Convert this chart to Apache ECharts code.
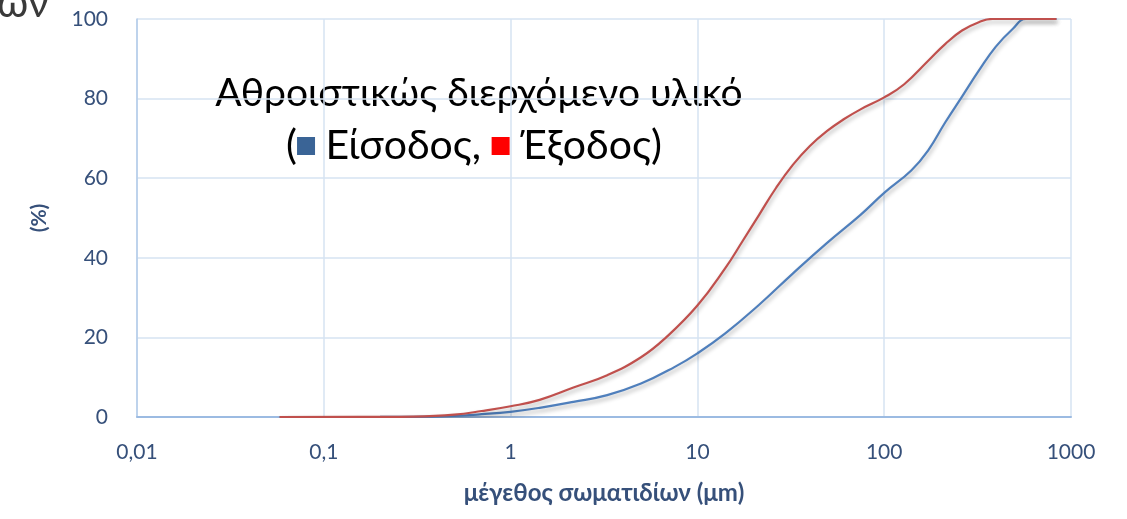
<!DOCTYPE html>
<html>
<head>
<meta charset="utf-8">
<script src="https://cdn.jsdelivr.net/npm/echarts@6/dist/echarts.min.js"></script>
<style>
html,body{margin:0;padding:0;background:#fff;}
#c{width:1127px;height:519px;}
</style>
</head>
<body>
<div id="c"></div>
<script>
// Data
const xTickLabels = ['0,01', '0,1', '1', '10', '100', '1000'];
const yTickLabels = ['0', '20', '40', '60', '80', '100'];

const exitSize = [0.058, 0.2, 0.3, 0.5, 0.7, 1, 1.43, 2.17, 3.29, 4.99, 6.8, 10, 14.1, 17.4, 21.4, 26.4, 32.5, 40, 49.3, 60.7, 74.7, 100, 128, 172, 212, 261, 321, 379, 836];
const exitPass = [0, 0.02, 0.1, 0.6, 1.5, 2.7, 4.3, 7.4, 10.5, 15, 20, 28, 37.4, 44.1, 50.8, 57.6, 63.4, 68.1, 71.8, 74.8, 77.3, 80.3, 83.6, 89.5, 93.7, 97.1, 99.2, 100, 100];

const inletSize = [0.058, 0.2, 0.3, 0.5, 0.7, 1, 1.43, 2.17, 3.29, 4.99, 7.57, 10, 14.1, 21.4, 32.5, 49.3, 74.7, 100, 140, 172, 212, 261, 321, 395, 487, 575, 836];
const inletPass = [0, 0.01, 0.05, 0.3, 0.7, 1.3, 2.3, 3.8, 5.5, 8.4, 12.6, 16, 21, 28.2, 36.1, 43.7, 50.8, 56.3, 62, 67, 74, 80.5, 87, 93, 97.5, 100, 100];

const pair = (xs, ys) => xs.map((x, i) => [x, ys[i]]);

const labelColor = '#36507a';
const font = 'Lato, "Open Sans", "Noto Sans", sans-serif';

const chart = echarts.init(document.getElementById('c'), null, {renderer: 'canvas'});
chart.setOption({
  animation: false,
  backgroundColor: '#ffffff',
  grid: {left: 137, right: 56, top: 19, bottom: 102, containLabel: false, outerBoundsMode: 'none'},
  xAxis: {
    type: 'log', logBase: 10, min: 0.01, max: 1000,
    name: 'μέγεθος σωματιδίων (μm)', nameLocation: 'middle', nameGap: 64,
    nameTextStyle: {color: labelColor, fontFamily: font, fontSize: 24, fontWeight: 'bold'},
    axisLine: {show: true, lineStyle: {color: '#9cbbe2', width: 2}},
    axisTick: {show: false},
    axisLabel: {
      color: labelColor, fontFamily: font, fontSize: 21, margin: 25,
      formatter: v => xTickLabels[Math.round(Math.log10(v)) + 2]
    },
    splitLine: {show: true, lineStyle: {color: '#d6e3f2', width: 1.5}},
    minorTick: {show: false}, minorSplitLine: {show: false}
  },
  yAxis: {
    type: 'value', min: 0, max: 100, interval: 20,
    name: '(%)', nameLocation: 'middle', nameGap: 87, nameRotate: 90,
    nameTextStyle: {color: labelColor, fontFamily: font, fontSize: 21, fontWeight: 'bold'},
    axisLine: {show: true, lineStyle: {color: '#b3cbe8', width: 1.5}},
    axisTick: {show: false},
    axisLabel: {
      color: labelColor, fontFamily: font, fontSize: 21, margin: 29,
      formatter: v => yTickLabels[Math.round(v / 20)]
    },
    splitLine: {show: true, lineStyle: {color: '#d6e3f2', width: 1.5}}
  },
  series: [
    {
      name: 'Είσοδος', type: 'line', data: pair(inletSize, inletPass),
      smooth: 0.45, symbol: 'none', z: 3,
      lineStyle: {color: '#4f7fbc', width: 2.2, shadowColor: 'rgba(0,0,0,0.3)', shadowBlur: 4, shadowOffsetX: 1, shadowOffsetY: 3}
    },
    {
      name: 'Έξοδος', type: 'line', data: pair(exitSize, exitPass),
      smooth: 0.45, symbol: 'none', z: 4,
      lineStyle: {color: '#c0504d', width: 2.2, shadowColor: 'rgba(0,0,0,0.3)', shadowBlur: 4, shadowOffsetX: 1, shadowOffsetY: 3}
    }
  ],
  graphic: [
    {
      type: 'text', left: -3, top: -17,
      style: {text: 'ων', fill: '#3a3a3a', font: '41px ' + font}
    },
    {
      type: 'text', x: 479, y: 93,
      style: {
        text: 'Αθροιστικώς διερχόμενο υλικό',
        fill: '#000', font: '39px ' + font,
        textAlign: 'center', textVerticalAlign: 'middle'
      }
    },
    {
      type: 'text', x: 474, y: 146,
      style: {
        text: '({b|} Είσοδος, {r|} Έξοδος)',
        fill: '#000', font: '41px ' + font,
        textAlign: 'center', textVerticalAlign: 'middle',
        rich: {
          b: {width: 18, height: 18, backgroundColor: '#3a6496'},
          r: {width: 18, height: 18, backgroundColor: '#ff0000'}
        }
      }
    }
  ]
});
</script>
</body>
</html>
